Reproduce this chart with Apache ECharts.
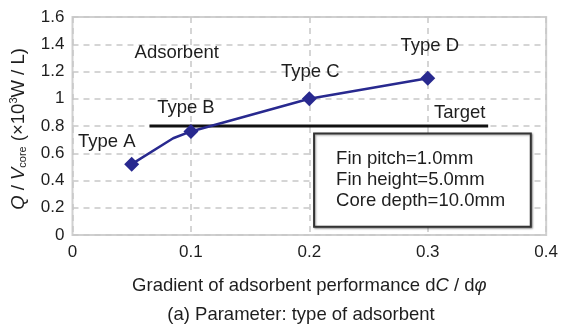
<!DOCTYPE html>
<html>
<head>
<meta charset="utf-8">
<script src="https://cdn.jsdelivr.net/npm/echarts@6/dist/echarts.min.js"></script>
<style>
  html, body { margin: 0; padding: 0; background: #fff; }
  #chart { width: 561px; height: 326px; }
</style>
</head>
<body>
<div id="chart"></div>
<script>
// Adsorbent types and their performance gradient vs heat output
const typeNames = ['Type A', 'Type B', 'Type C', 'Type D'];
const typeX = [0.05, 0.1, 0.2, 0.3];
const typeY = [0.52, 0.76, 1.0, 1.15];
// Full curve path (includes an unmarked intermediate point between A and B)
const curveX = [0.05, 0.085, 0.1, 0.2, 0.3];
const curveY = [0.52, 0.71, 0.76, 1.0, 1.15];
// Target level line
const targetX = [0.065, 0.351];
const targetY = [0.8, 0.8];
// Condition box extent (data units)
const boxX = [0.204, 0.387];
const boxY = [0.06, 0.745];
const boxLines = ['Fin pitch=1.0mm', 'Fin height=5.0mm', 'Core depth=10.0mm'];
// Axis ticks
const xTicks = [0, 0.1, 0.2, 0.3, 0.4];
const yTicks = [0, 0.2, 0.4, 0.6, 0.8, 1.0, 1.2, 1.4, 1.6];

const FONT = 'Liberation Sans, Arial, sans-serif';
const FS = 18.5;       // annotation / axis-name font size
const TICK_FS = 17;    // tick label font size
const INK = '#1e1e1e';
const LINE_BLUE = '#28298f';
// label placement relative to each marker
const labelOffsets = [[-25, -22], [-5, -24], [1, -27], [2, -32]];

const chart = echarts.init(document.getElementById('chart'), null, { renderer: 'canvas' });

chart.setOption({
  animation: false,
  backgroundColor: '#fff',
  textStyle: { fontFamily: FONT },
  title: {
    text: '(a) Parameter: type of adsorbent',
    left: 296, top: 300, textAlign: 'center',
    textStyle: { fontFamily: FONT, fontSize: FS, fontWeight: 'normal', color: INK }
  },
  grid: {
    left: 72, right: 14, top: 17, bottom: 91,
    show: true, borderColor: '#d0d0d0', borderWidth: 2
  },
  xAxis: {
    type: 'value', min: xTicks[0], max: xTicks[xTicks.length - 1], interval: 0.1,
    axisLine: { show: false },
    axisTick: { show: false },
    axisLabel: { color: INK, fontSize: TICK_FS, margin: 9, fontFamily: FONT,
      formatter: v => (v === 0 ? '0' : String(+v.toFixed(1))) },
    splitLine: { show: true, lineStyle: { color: '#c8c8c8', type: [6, 5], width: 1.5 } },
    name: '{n|Gradient of adsorbent performance d}{i|C}{n| / d}{i|φ}',
    nameLocation: 'middle', nameGap: 41,
    nameTextStyle: {
      rich: {
        n: { fontSize: FS, color: INK, fontFamily: FONT },
        i: { fontSize: FS, color: INK, fontFamily: FONT, fontStyle: 'italic' }
      }
    }
  },
  yAxis: {
    type: 'value', min: yTicks[0], max: yTicks[yTicks.length - 1], interval: 0.2,
    axisLine: { show: false },
    axisTick: { show: false },
    axisLabel: { color: INK, fontSize: TICK_FS, margin: 8, fontFamily: FONT,
      formatter: v => (v === 0 ? '0' : (Math.abs(v - 1) < 1e-9 ? '1' : String(+v.toFixed(1)))) },
    splitLine: { show: true, lineStyle: { color: '#c8c8c8', type: [6, 5], width: 1.5 } },
    name: '{i|Q}{n| / }{i|V}{s|core}{n| (×10}{p|3}{n|W / L)}',
    nameLocation: 'middle', nameGap: 43, nameRotate: 90,
    nameTextStyle: {
      padding: [0, 6, 0, 0],
      rich: {
        n: { fontSize: FS, color: INK, fontFamily: FONT, lineHeight: 22 },
        i: { fontSize: FS, color: INK, fontFamily: FONT, fontStyle: 'italic', lineHeight: 22 },
        s: { fontSize: 11, color: INK, fontFamily: FONT, padding: [9, 0, 0, 0] },
        p: { fontSize: 11, color: INK, fontFamily: FONT, padding: [0, 0, 10, 0] }
      }
    }
  },
  series: [
    {
      // condition box
      type: 'line', data: [], silent: true,
      markArea: {
        silent: true,
        itemStyle: { color: '#fff', borderColor: '#333', borderWidth: 2,
          shadowColor: 'rgba(0,0,0,0.35)', shadowBlur: 2, shadowOffsetX: 1, shadowOffsetY: 1 },
        label: {
          show: true, position: 'insideLeft', distance: 23,
          formatter: boxLines.join('\n'),
          fontSize: FS, lineHeight: 21, color: INK, fontFamily: FONT, align: 'left',
          padding: [3, 0, 0, 0]
        },
        data: [[{ coord: [boxX[0], boxY[1]] }, { coord: [boxX[1], boxY[0]] }]]
      }
    },
    {
      // target line
      type: 'line', silent: true, symbol: 'none',
      data: targetX.map((x, i) => [x, targetY[i]]),
      lineStyle: { color: '#111', width: 3 }, z: 3
    },
    {
      // curve through all points
      type: 'line', silent: true, symbol: 'none',
      data: curveX.map((x, i) => [x, curveY[i]]),
      lineStyle: { color: LINE_BLUE, width: 2.5 }, z: 4
    },
    {
      // marked adsorbent types
      type: 'scatter', silent: true, symbol: 'diamond', symbolSize: 15,
      itemStyle: { color: LINE_BLUE, opacity: 1 }, z: 5,
      data: typeX.map((x, i) => ({
        value: [x, typeY[i]], name: typeNames[i],
        label: { offset: labelOffsets[i] }
      })),
      label: {
        show: true, position: 'inside',
        formatter: p => p.name,
        fontSize: FS, color: INK, fontFamily: FONT
      }
    },
    {
      // free text annotations
      type: 'scatter', silent: true, symbolSize: 0, z: 6,
      itemStyle: { opacity: 1 },
      data: [
        { value: [0.088, 1.34], name: 'Adsorbent' },
        { value: [0.327, 0.895], name: 'Target' }
      ],
      label: { show: true, position: 'inside', formatter: p => p.name,
        fontSize: FS, color: INK, fontFamily: FONT }
    }
  ]
});
</script>
</body>
</html>
